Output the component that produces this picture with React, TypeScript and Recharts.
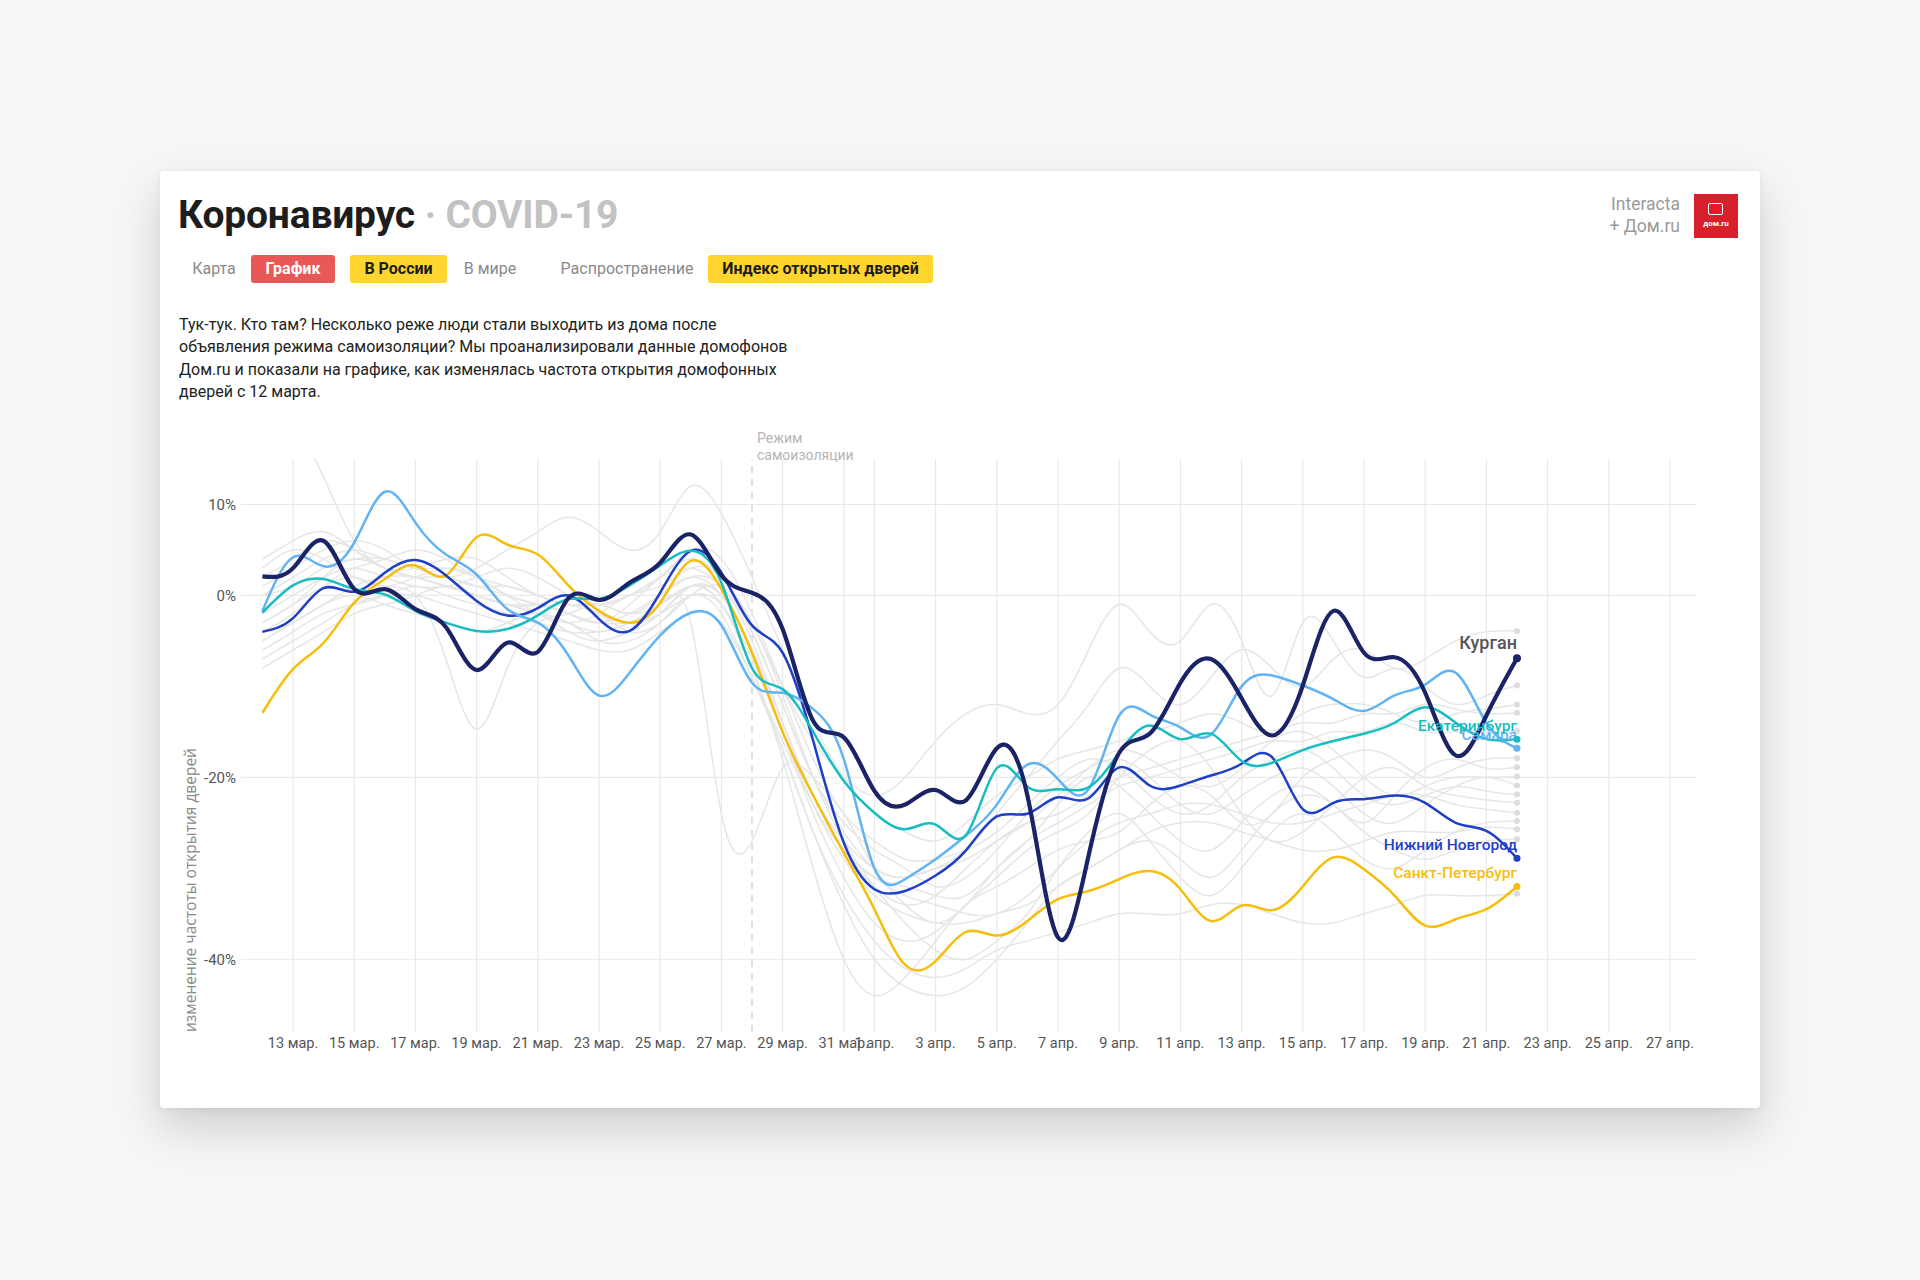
import { LineChart, Line, XAxis, YAxis, CartesianGrid, ReferenceLine } from "recharts";

// day 0 = 12 марта, last point = 22 апреля
const kurgan = [2.1, 3.0, 6.0, 0.7, 0.7, -1.5, -3.5, -8.2, -5.2, -6.2, -0.3, -0.5, 1.4, 3.6, 6.7, 2.2, 0.3, -3.7, -13.8, -15.6, -21.5, -23, -21.4, -22.5, -16.8, -22, -37.6, -28.6, -17.3, -15.2, -9.6, -7, -11.3, -15.4, -9.9, -1.7, -6.3, -6.8, -10.7, -17.6, -13.2, -6.9];
const ekb = [-1.9, 1.1, 1.8, 0.7, 0.1, -1.7, -3, -3.9, -3.7, -2.2, -0.4, -0.4, 1.1, 3.3, 4.9, 1.4, -8, -10.3, -15, -20.4, -23.9, -25.7, -25.2, -26.3, -19, -21, -21.3, -21.1, -17.3, -14.3, -15.8, -15.2, -18.2, -18.4, -17, -16, -15.2, -14, -12.3, -14, -15.8, -15.8];
const samara = [-1.7, 4.2, 3.2, 5.8, 11.4, 8, 4.5, 2.3, -1.5, -3, -6.6, -11, -8.5, -4.4, -1.9, -3.3, -9.6, -10.7, -12.5, -18, -30, -31.2, -29, -26.4, -23, -18.6, -20.2, -21.3, -13.2, -13.1, -14.5, -15.3, -10, -8.8, -9.9, -11.4, -12.7, -11, -9.8, -8.5, -14, -16.8];
const nnov = [-4, -2.5, 0.8, 0.4, 2.5, 3.9, 2.2, -0.6, -2.2, -1.4, 0, -2.6, -3.9, 0.3, 4.9, 2.5, -3.3, -6.3, -16, -27.2, -32.3, -32.5, -30.8, -28, -24.3, -24, -22.2, -22.3, -18.9, -20.9, -20.9, -19.8, -18.5, -17.8, -23.5, -22.8, -22.4, -22, -22.8, -25, -25.9, -28.9];
const spb = [-12.9, -8.1, -5.2, -0.8, 1.8, 3.3, 2.2, 6.4, 5.6, 4.5, 1.1, -1.7, -3, -0.8, 3.8, 0.7, -6.3, -15, -22, -28.3, -34.5, -40.6, -40.2, -37, -37.4, -35.8, -33.4, -32.5, -31.2, -30.3, -32.3, -35.8, -34.1, -34.6, -32, -28.8, -30.1, -33, -36.3, -35.6, -34.5, -32];

const gray01 = [22, 19, 13, 6, 3, 2, 1, 0, -1, -1, 0, -1, 0, 2, 3, 1, -4, -12, -20, -26, -30, -31, -30, -28, -24, -20, -16, -12, -8, -10, -12, -9, -6, -8, -10, -7, -6, -8, -7, -5, -4, -3.9];
const gray02 = [3, 5, 4, 2, 1, 2, 3, 2, 0, -1, -2, -3, -1, 2, 4, 2, -3, -10, -16, -20, -22, -20, -16, -13, -12, -13, -12, -6, -1, -4, -5, -1, -5, -11, -3, -5, -9, -8, -10, -12, -11, -9.9];
const gray03 = [0, 2, 4, 5, 4, 3, 2, 3, 5, 7, 8.6, 7, 5, 7, 12, 9, 2, -6, -14, -20, -24, -26, -27, -25, -22, -20, -18, -17, -16, -15, -14, -13, -14, -15, -13, -12, -12, -13, -14, -13, -12.5, -12];
const gray04 = [-3, -1, 1, 2, 1, 0, -7, -14.7, -8, -3, -2, -1, -2, 0, 2, 0, -6, -14, -22, -28, -32, -34, -33, -30, -27, -25, -24, -22, -20, -19, -18, -17, -16, -15, -14, -14, -13, -13, -12, -12.5, -13, -12.9];
const gray05 = [-5, -3, -1, 0, -1, -2, -3, -4, -3, -2, -3, -4, -3, -1, -3, -24, -27, -19, -20, -24, -30, -34, -36, -34, -30, -27, -25, -23, -21, -20, -19, -18, -17, -16, -16, -15, -15, -14, -15, -15, -15, -14.9];
const gray06 = [-6, -4, -2, -1, 0, 1, 0, -1, -2, -3, -4, -4, -3, -1, 1, -1, -8, -18, -30, -40, -44, -42, -38, -34, -32, -30, -28, -27, -26, -23, -21, -22, -25, -24, -20, -18, -17, -18, -20, -19, -18, -17.9];
const gray07 = [-8, -6, -4, -2, -1, 0, 1, 0, -1, -2, -3, -5, -5, -3, 0, -2, -9, -17, -26, -34, -40, -43, -44, -43, -40, -36, -32, -30, -28, -27, -29, -31, -28, -24, -22, -23, -25, -22, -19, -18, -19, -18.9];
const gray08 = [2, 4, 6, 5, 3, 2, 2, 1, 0, -1, -2, -3, -2, 0, 2, 1, -5, -14, -22, -27, -30, -31, -30, -29, -27, -25, -22, -19, -17, -18, -20, -21, -19, -16, -15, -17, -20, -22, -21, -20, -20, -19.9];
const gray09 = [-4, -2, 1, 3, 4, 5, 4, 2, 0, -2, -3, -2, 0, 1, 3, 2, -4, -12, -20, -25, -28, -30, -32, -31, -28, -24, -21, -19, -18, -20, -23, -24, -22, -20, -19, -21, -24, -25, -23, -21, -20, -20.9];
const gray10 = [4, 6, 7, 5, 3, 3, 4, 4, 2, 0, -1, -1, 0, 2, 5, 4, -2, -10, -18, -24, -27, -29, -29, -28, -26, -23, -20, -18, -19, -22, -24, -23, -20, -18, -17, -19, -22, -23, -22, -21, -21.5, -21.9];
const gray11 = [-2, 0, 2, 3, 2, 1, 1, 2, 3, 2, 0, -2, -3, -2, 1, 0, -6, -15, -24, -31, -36, -38, -37, -34, -31, -28, -26, -24, -20, -17, -16, -19, -24, -27, -26, -23, -20, -19, -21, -22, -22.5, -22.8];
const gray12 = [-7, -5, -3, -1, 0, 0, -1, -2, -3, -4, -5, -6, -6, -4, -2, -3, -9, -16, -23, -28, -31, -33, -34, -35, -35, -33, -30, -27, -25, -24, -23, -23, -24, -25, -25, -24, -23, -22, -22, -23, -23.5, -23.9];
const gray13 = [1, 3, 5, 6, 5, 3, 2, 1, 1, 0, -1, -2, -4, -3, 0, 1, -3, -11, -20, -27, -32, -36, -39, -40, -38, -35, -30, -26, -24, -27, -31, -33, -30, -26, -24, -26, -29, -30, -28, -26, -25, -24.8];
const gray14 = [-3, -1, 2, 4, 3, 2, 1, 0, -1, -1, -2, -3, -3, -2, 0, -1, -7, -15, -23, -29, -33, -35, -36, -36, -35, -34, -32, -30, -28, -26, -25, -25, -26, -27, -28, -28, -27, -26, -26, -26, -25.5, -25.7];
const gray15 = [0, 1, 3, 4, 4, 3, 3, 2, 1, 0, -1, -1, -2, -1, 1, 0, -6, -14, -22, -28, -31, -32, -33, -33, -30, -27, -23, -20, -21, -24, -27, -28, -25, -22, -21, -23, -26, -28, -29, -28, -27, -26.8];
const gray16 = [-5, -3, -1, 1, 2, 2, 1, 0, -1, -2, -4, -5, -4, -2, 1, -1, -8, -17, -26, -33, -38, -41, -42, -41, -39, -38, -37, -36, -35, -35, -35, -34, -34, -35, -36, -36, -35, -34, -33, -33, -33, -32.8];

const grayLines = [gray01, gray02, gray03, gray04, gray05, gray06, gray07, gray08, gray09, gray10, gray11, gray12, gray13, gray14, gray15, gray16];

const tickDays = [1, 3, 5, 7, 9, 11, 13, 15, 17, 19, 20, 22, 24, 26, 28, 30, 32, 34, 36, 38, 40, 42, 44, 46];
const tickLabels = ["13 мар.", "15 мар.", "17 мар.", "19 мар.", "21 мар.", "23 мар.", "25 мар.", "27 мар.", "29 мар.", "31 мар.", "1 апр.", "3 апр.", "5 апр.", "7 апр.", "9 апр.", "11 апр.", "13 апр.", "15 апр.", "17 апр.", "19 апр.", "21 апр.", "23 апр.", "25 апр.", "27 апр."];
const yTicks = [10, 0, -20, -40];
const isolationDay = 16;
const X_DOMAIN = [-0.7, 46.85];
const Y_DOMAIN = [-48, 15];

const highlighted = [
  { key: "spb", name: "Санкт-Петербург", values: spb, color: "#f7bd0a", width: 2.5 },
  { key: "nnov", name: "Нижний Новгород", values: nnov, color: "#1f3fc6", width: 2.5 },
  { key: "samara", name: "Самара", values: samara, color: "#62b3f3", width: 2.5 },
  { key: "ekb", name: "Екатеринбург", values: ekb, color: "#19bdbf", width: 2.5 },
  { key: "kurgan", name: "Курган", values: kurgan, color: "#1a2366", width: 4.2 },
];

const LAST = kurgan.length - 1;

const data = kurgan.map((_, i) => {
  const row: Record<string, number> = { day: i };
  highlighted.forEach((s) => (row[s.key] = s.values[i]));
  grayLines.forEach((g, j) => (row[`g${j}`] = g[i]));
  return row;
});

const FONT = "Roboto, 'Noto Sans', Arial, sans-serif";

// grid only at the tick values (no frame at the plot edges)
const verticalGrid = (props: any) => {
  const s = props?.xAxis?.scale;
  if (typeof s === "function") return tickDays.map((d) => s(d));
  const o = props?.offset;
  if (o && typeof o.left === "number")
    return tickDays.map((d) => o.left + ((d - X_DOMAIN[0]) / (X_DOMAIN[1] - X_DOMAIN[0])) * o.width);
  return [];
};
const horizontalGrid = (props: any) => {
  const s = props?.yAxis?.scale;
  if (typeof s === "function") return yTicks.map((v) => s(v));
  const o = props?.offset;
  if (o && typeof o.top === "number")
    return yTicks.map((v) => o.top + ((Y_DOMAIN[1] - v) / (Y_DOMAIN[1] - Y_DOMAIN[0])) * o.height);
  return [];
};

function grayDot(props: any) {
  const { cx, cy, index } = props;
  if (index !== LAST) return <g key={`gd${index}`} />;
  return <circle key={`gd${index}`} cx={cx} cy={cy} r={3} fill="#dcdcdc" />;
}

function makeEndDot(name: string, color: string, isMain: boolean) {
  return (props: any) => {
    const { cx, cy, index } = props;
    if (index !== LAST) return <g key={`d${index}`} />;
    return (
      <g key={`d${index}`}>
        <circle cx={cx} cy={cy} r={isMain ? 4 : 3.5} fill={color} />
        <text
          x={cx}
          y={cy - (isMain ? 16 : 13)}
          textAnchor="end"
          dominantBaseline="central"
          fontFamily={FONT}
          fontSize={isMain ? 18 : 15.5}
          fontWeight={500}
          fill={isMain ? "#555" : color}
        >
          {name}
        </text>
      </g>
    );
  };
}

const tabStyle = (left: number, width: number, bg: string | null, color: string, bold: boolean) => ({
  position: "absolute" as const,
  left,
  top: 255,
  width,
  height: 28,
  lineHeight: "28px",
  textAlign: "center" as const,
  fontSize: 16,
  fontWeight: bold ? 700 : 400,
  color,
  background: bg ?? "transparent",
  borderRadius: 3,
});

export default function App() {
  return (
    <div
      style={{
        position: "absolute",
        left: 0,
        top: 0,
        width: 1920,
        height: 1280,
        background: "#f6f6f6",
        fontFamily: FONT,
        overflow: "hidden",
      }}
    >
      <div
        style={{
          position: "absolute",
          left: 160,
          top: 171,
          width: 1600,
          height: 937,
          background: "#fff",
          borderRadius: 4,
          boxShadow: "0 20px 45px rgba(0,0,0,0.16), 0 2px 6px rgba(0,0,0,0.06)",
        }}
      />

      <div
        style={{
          position: "absolute",
          left: 178,
          top: 196,
          fontSize: 39,
          lineHeight: "39px",
          fontWeight: 700,
          letterSpacing: -0.2,
          color: "#1d1d1d",
          whiteSpace: "nowrap",
        }}
      >
        Коронавирус <span style={{ color: "#c2c2c2" }}>· COVID-19</span>
      </div>

      <div style={tabStyle(181, 66, null, "#8a8a8a", false)}>Карта</div>
      <div style={tabStyle(251, 84, "#ea5757", "#fff", true)}>График</div>
      <div style={tabStyle(350, 97, "#ffd52e", "#1d1d1d", true)}>В России</div>
      <div style={tabStyle(455, 70, null, "#8a8a8a", false)}>В мире</div>
      <div style={tabStyle(552, 150, null, "#8a8a8a", false)}>Распространение</div>
      <div style={tabStyle(708, 225, "#ffd52e", "#1d1d1d", true)}>Индекс открытых дверей</div>

      <div
        style={{
          position: "absolute",
          left: 179,
          top: 314,
          fontSize: 16,
          lineHeight: "22.3px",
          color: "#222",
          whiteSpace: "nowrap",
        }}
      >
        Тук-тук. Кто там? Несколько реже люди стали выходить из дома после
        <br />
        объявления режима самоизоляции? Мы проанализировали данные домофонов
        <br />
        Дом.ru и показали на графике, как изменялась частота открытия домофонных
        <br />
        дверей с 12 марта.
      </div>

      <div
        style={{
          position: "absolute",
          right: 240,
          top: 193,
          fontSize: 17.5,
          lineHeight: "22px",
          color: "#9a9a9a",
          textAlign: "right",
        }}
      >
        Interacta
        <br />+ Дом.ru
      </div>
      <div
        style={{
          position: "absolute",
          left: 1694,
          top: 194,
          width: 44,
          height: 44,
          background: "#d7202c",
        }}
      >
        <div
          style={{
            position: "absolute",
            left: 14,
            top: 9,
            width: 13,
            height: 10,
            border: "1.5px solid #fff",
            borderRadius: 2,
          }}
        />
        <div
          style={{
            position: "absolute",
            left: 0,
            top: 25,
            width: 44,
            textAlign: "center",
            fontSize: 8,
            fontWeight: 700,
            color: "#fff",
          }}
        >
          дом.ru
        </div>
      </div>

      <div style={{ position: "absolute", left: 160, top: 400 }}>
        <LineChart width={1600} height={690} data={data} margin={{ top: 59, right: 64, bottom: 28, left: 0 }}>
          <CartesianGrid
            stroke="#e9e9e9"
            strokeWidth={1.2}
            verticalCoordinatesGenerator={verticalGrid}
            horizontalCoordinatesGenerator={horizontalGrid}
          />
          <XAxis
            dataKey="day"
            type="number"
            domain={X_DOMAIN}
            allowDataOverflow
            ticks={tickDays}
            interval={0}
            tickFormatter={(d: number) => tickLabels[tickDays.indexOf(d)]}
            axisLine={false}
            tickLine={false}
            tickSize={0}
            tickMargin={6}
            height={30}
            tick={{ fill: "#555", fontSize: 14.5, fontFamily: FONT }}
          />
          <YAxis
            type="number"
            domain={Y_DOMAIN}
            allowDataOverflow
            ticks={yTicks}
            interval={0}
            tickFormatter={(v: number) => `${v}%`}
            axisLine={false}
            tickLine={false}
            tickSize={0}
            tickMargin={5}
            width={81}
            tick={{ fill: "#555", fontSize: 15, fontFamily: FONT }}
            label={(p: any) => {
              const vb = p.viewBox;
              const x = vb.x + 30;
              const y = vb.y + vb.height;
              return (
                <text
                  x={x}
                  y={y}
                  transform={`rotate(-90, ${x}, ${y})`}
                  textAnchor="start"
                  dominantBaseline="central"
                  fontFamily="'Open Sans', 'Noto Sans', sans-serif"
                  fontSize={15.5}
                  fill="#8a8a8a"
                >
                  изменение частоты открытия дверей
                </text>
              );
            }}
          />
          <ReferenceLine
            x={isolationDay}
            stroke="#d6d6d6"
            strokeWidth={1.5}
            strokeDasharray="7 6"
            label={(p: any) => {
              const vb = p.viewBox;
              return (
                <text x={vb.x + 5} y={vb.y - 16} fontFamily={FONT} fontSize={14} fill="#b5b5b5">
                  <tspan x={vb.x + 5}>Режим</tspan>
                  <tspan x={vb.x + 5} dy={17}>самоизоляции</tspan>
                </text>
              );
            }}
          />
          {grayLines.map((_, j) => (
            <Line
              key={`g${j}`}
              dataKey={`g${j}`}
              type="natural"
              stroke="#e6e6e6"
              strokeWidth={1.5}
              dot={grayDot}
              activeDot={false}
              isAnimationActive={false}
            />
          ))}
          {highlighted.map((s) => (
            <Line
              key={s.key}
              dataKey={s.key}
              type="natural"
              stroke={s.color}
              strokeWidth={s.width}
              dot={makeEndDot(s.name, s.color, s.key === "kurgan")}
              activeDot={false}
              isAnimationActive={false}
            />
          ))}
        </LineChart>
      </div>
    </div>
  );
}
